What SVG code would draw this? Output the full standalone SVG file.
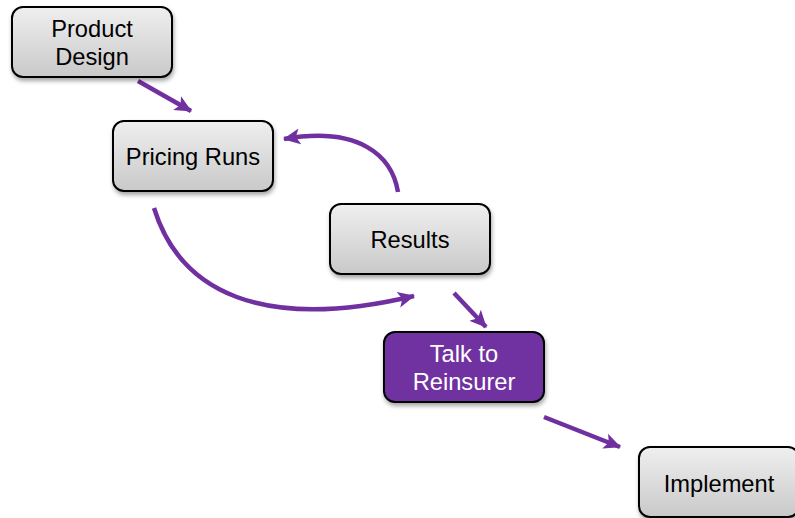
<svg xmlns="http://www.w3.org/2000/svg" width="795" height="518" viewBox="0 0 795 518">
  <defs>
    <linearGradient id="grayFill" x1="0" y1="0" x2="0" y2="1">
      <stop offset="0" stop-color="#efefef"/>
      <stop offset="1" stop-color="#c9c9c9"/>
    </linearGradient>
    <filter id="shadow" x="-10%" y="-10%" width="125%" height="135%">
      <feDropShadow dx="1" dy="3" stdDeviation="2" flood-color="#000" flood-opacity="0.35"/>
    </filter>
    <marker id="head" markerUnits="userSpaceOnUse" markerWidth="18" markerHeight="18" viewBox="0 0 18 18" refX="16" refY="9" orient="auto">
      <path d="M0,1 L17,9 L0,17 L4,9 Z" fill="#7030a0"/>
    </marker>
  </defs>
  <style>
    .box { fill: url(#grayFill); stroke: #000; stroke-width: 2; filter: url(#shadow); }
    .box.accent { fill: #7030a0; }
    .label { font-family: "Liberation Sans", Arial, sans-serif; font-size: 23.7px; fill: #000; text-anchor: middle; }
    .label.light { fill: #fff; }
    .link { fill: none; stroke: #7030a0; stroke-width: 4.5; marker-end: url(#head); }
  </style>

  <g id="connectors">
    <path class="link" d="M138,81 L191,111"/>
    <path class="link" d="M398,192 C392,156 360,126 284,139"/>
    <path class="link" d="M154,208 C180,292 262,332 414,296"/>
    <path class="link" d="M454,293 L486,327"/>
    <path class="link" d="M544,417 L620,447"/>
  </g>

  <g id="product-design">
    <rect class="box" x="12" y="7" width="160" height="70" rx="11"/>
    <text class="label" x="92" y="37">Product</text>
    <text class="label" x="92" y="65">Design</text>
  </g>

  <g id="pricing-runs">
    <rect class="box" x="113" y="121" width="160" height="70" rx="11"/>
    <text class="label" x="193" y="165">Pricing Runs</text>
  </g>

  <g id="results">
    <rect class="box" x="330" y="204" width="160" height="70" rx="11"/>
    <text class="label" x="410" y="248">Results</text>
  </g>

  <g id="talk-to-reinsurer">
    <rect class="box accent" x="384" y="332" width="160" height="70" rx="11"/>
    <text class="label light" x="464" y="362">Talk to</text>
    <text class="label light" x="464" y="390">Reinsurer</text>
  </g>

  <g id="implement">
    <rect class="box" x="639" y="447" width="160" height="70" rx="11"/>
    <text class="label" x="719" y="492">Implement</text>
  </g>
</svg>
